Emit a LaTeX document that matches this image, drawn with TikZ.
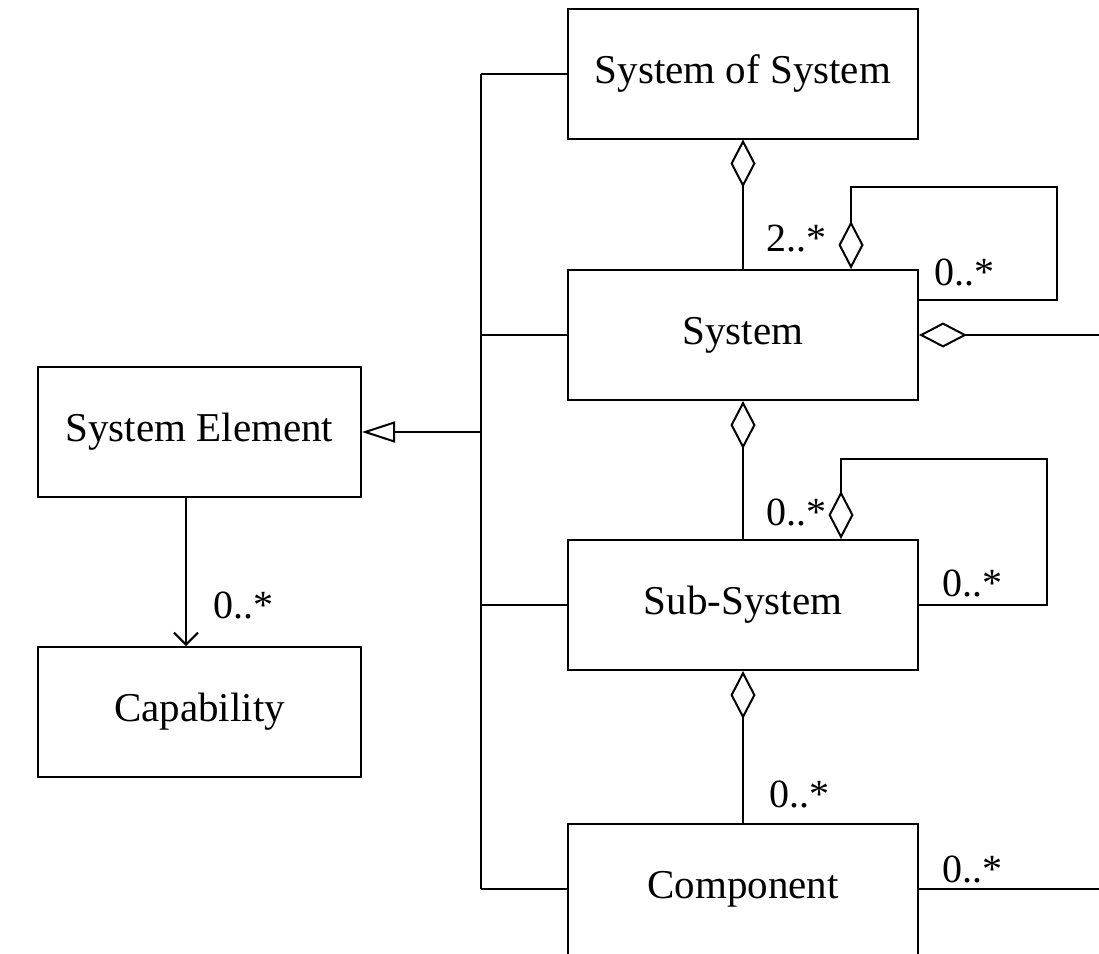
\documentclass[tikz,border=0pt]{standalone}
\usepackage{fontspec}
\setmainfont{Liberation Serif}
\usetikzlibrary{arrows.meta,calc}
\begin{document}
\begin{tikzpicture}[x=1pt,y=-1pt, line width=2pt,
  box/.style={draw, line width=2pt, minimum width=350pt, minimum height=130pt, inner sep=0pt, font=\fontsize{41}{49}\selectfont},
  openbox/.style={box, draw=none, outer sep=0pt},
  lbox/.style={box, minimum width=323pt},
  mult/.style={inner sep=0pt, anchor=base west, font=\fontsize{40}{48}\selectfont},
  aggend/.style={-{Diamond[open, length=48pt, width=25pt]}},
  aggstart/.style={{Diamond[open, length=48pt, width=25pt]}-},
  gen/.style={-{Triangle[open, length=33pt, width=21pt]}},
  assoc/.style={-{Straight Barb[length=12pt, width=24pt]}}]
\useasboundingbox (0,0) rectangle (1099,953);
\clip (0,0) rectangle (1099,953);

% nodes
\node[box] (sos) at (743,73.5) {System of System};
\node[box] (sys) at (743,335) {System};
\node[box] (sub) at (743,605) {Sub-System};
\node[openbox] (comp) at (743,889) {Component};
\node[lbox] (se) at (199.5,432) {System Element};
\node[lbox] (cap) at (199.5,712) {Capability};

% component box, cut by the lower edge of the picture
\draw ([yshift=-20pt]comp.south west) -- (comp.north west) -- (comp.north east) -- ([yshift=-20pt]comp.south east);

% helper coordinates
\coordinate (J) at (481,432);
\coordinate (Jtop) at (481,73.5);
\coordinate (Jbot) at (481,889);
\coordinate (ax) at (186,0);
\coordinate (sysR) at (1099,335);
\coordinate (compR) at (1099,889);
\coordinate (sysLoopA) at ($(sys.north east)+(-68,0)$);
\coordinate (sysLoopB) at (1057,187);
\coordinate (sysLoopC) at ($(sys.north east)+(0,31)$);
\coordinate (subLoopA) at ($(sub.north east)+(-78,0)$);
\coordinate (subLoopB) at (1047,459);

% generalization
\draw (Jtop) -- (Jbot);
\draw (Jtop) -- (sos.west);
\draw (J |- sys.west) -- (sys.west);
\draw (J |- sub.west) -- (sub.west);
\draw (Jbot) -- (comp.west);
\draw[gen] (J) -- (se.east);

% association
\draw[assoc] (se.south -| ax) -- (cap.north -| ax);
\node[mult] at (212,618) {0..*};

% aggregations
\draw[aggend] (sys.north) -- (sos.south);
\node[mult] at (765,251) {2..*};
\draw[aggstart] (sysLoopA) |- (sysLoopB) |- (sysLoopC);
\node[mult] at (933,285) {0..*};
\draw[aggstart] (sys.east) -- (sysR);

\draw[aggend] (sub.north) -- (sys.south);
\node[mult] at (765,525) {0..*};
\draw[aggstart] (subLoopA) |- (subLoopB) |- (sub.east);
\node[mult] at (941,596) {0..*};

\draw[aggend] (comp.north) -- (sub.south);
\node[mult] at (768,807) {0..*};
\draw (comp.east) -- (compR);
\node[mult] at (941,882) {0..*};
\end{tikzpicture}
\end{document}
